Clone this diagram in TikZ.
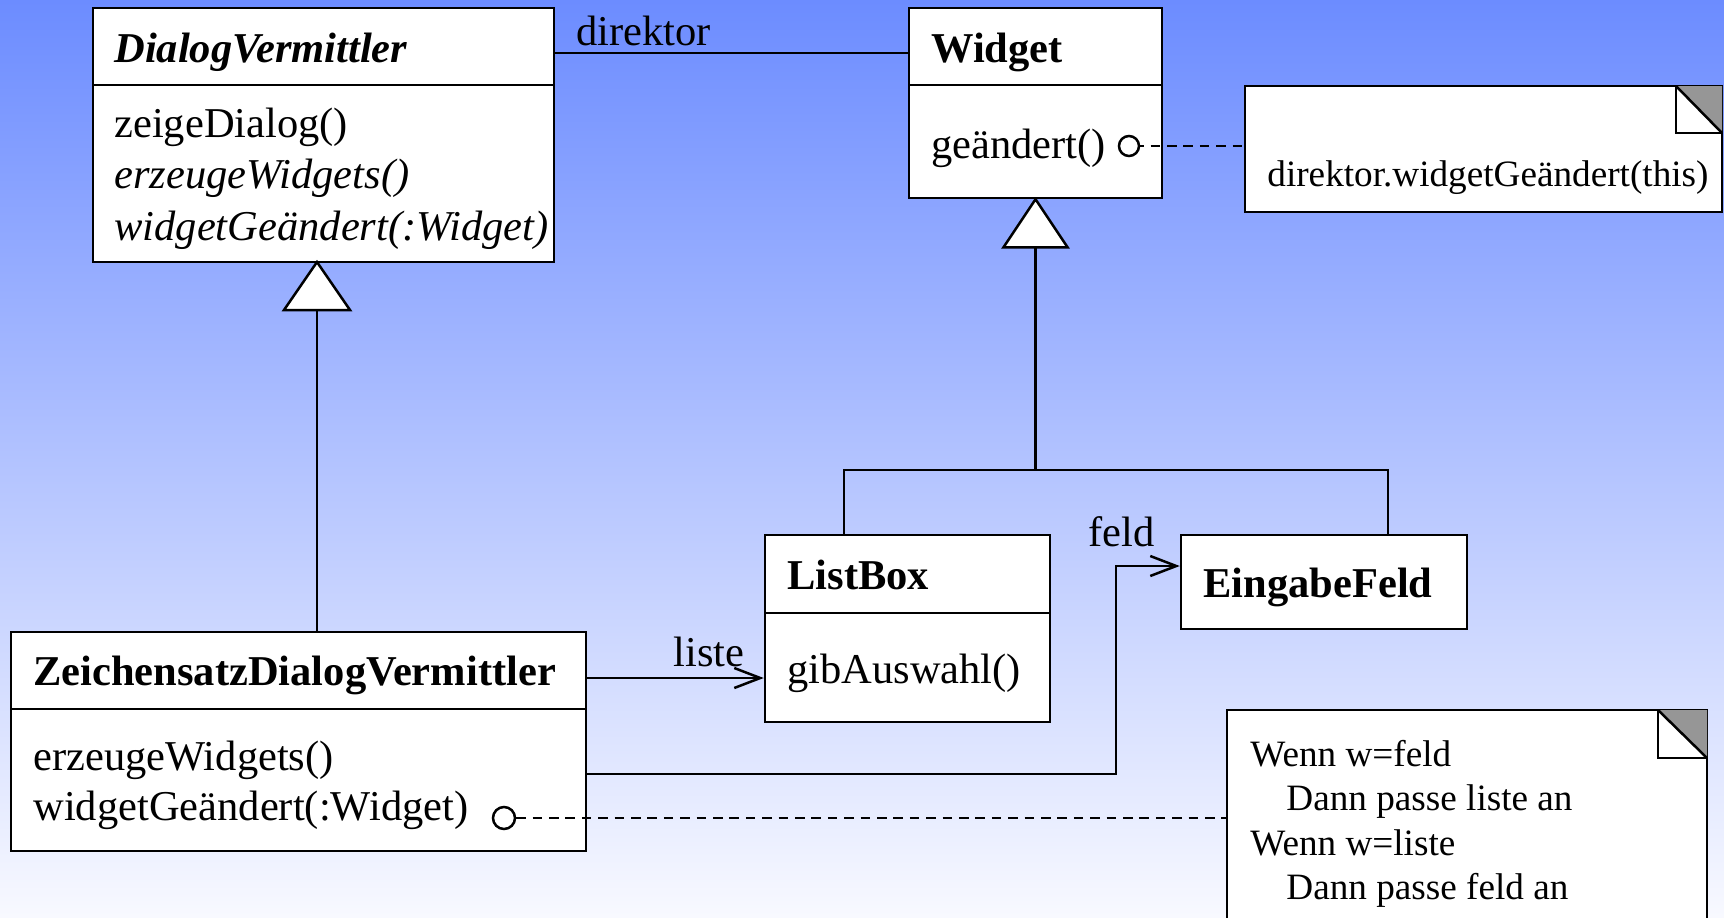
\documentclass[tikz,border=0pt]{standalone}
\usepackage{fontspec}
\setmainfont{Liberation Serif}
\usetikzlibrary{arrows.meta,fit,calc}
\definecolor{bgtop}{RGB}{108,140,255}
\definecolor{bgbot}{RGB}{248,249,255}
\definecolor{foldgray}{RGB}{150,150,150}
\begin{document}
\begin{tikzpicture}[x=0.5pt,y=-0.5pt,
  box/.style={draw, fill=white, line width=1.25pt, inner sep=0pt},
  txt/.style={anchor=base west, inner sep=0pt, font=\fontsize{21.25pt}{25.5pt}\selectfont},
  ntxt/.style={anchor=base west, inner sep=0pt, font=\fontsize{18.6pt}{22pt}\selectfont},
  conn/.style={line width=1.25pt},
  notedash/.style={line width=1.25pt, dash pattern=on 4.8pt off 3.4pt},
  opentip/.style={-{Straight Barb[length=13pt,width=10pt,line width=1.25pt]}},
  port/.style={circle, draw, fill=white, line width=1.25pt, minimum size=10pt, inner sep=0pt},
]
\shade[top color=bgtop, bottom color=bgbot] (0,0) rectangle (1724,917);
\useasboundingbox (0,0) rectangle (1724,917);
\clip (0,0) rectangle (1724,917);

% DialogVermittler
\node[box, fit={(93,8)(554,262)}] (dv) {};
\draw[conn] (93,85) -- (554,85);
\node[txt] (dvname) at (114,62) {\bfseries\itshape DialogVermittler};
\node[txt] (dvm1) at (114,137) {zeigeDialog()};
\node[txt] (dvm2) at (114,188) {\itshape erzeugeWidgets()};
\node[txt] (dvm3) at (114,240) {\itshape widgetGeändert(:Widget)};

% Widget
\node[box, fit={(909,8)(1162,198)}] (w) {};
\draw[conn] (909,85) -- (1162,85);
\node[txt] (wname) at (931,62) {\bfseries Widget};
\node[txt] (wm1) at (931,158) {geändert()};
\node[port] (c1) at (1129,146) {};

% Note 1
\node[box, fit={(1245,86)(1722,212)}] (note1) {};
\fill[foldgray] (1676,86) -- (1722,86) -- (1722,133) -- cycle;
\draw[conn] (1676,86) -- (1676,133) -- (1722,133);
\draw[conn] (1676,86) -- (1722,133);
\node[ntxt] (note1txt) at (1267,186) {direktor.widgetGeändert(this)};
\draw[notedash, dash phase=3pt] (c1.east) -- (note1.west |- c1.east);

% direktor association
\coordinate (diry) at (0,53);
\draw[conn] (dv.east |- diry) -- (w.west |- diry);
\node[txt] (dirlbl) at (576,45) {direktor};

% ListBox
\node[box, fit={(765,535)(1050,722)}] (lb) {};
\draw[conn] (765,613) -- (1050,613);
\node[txt] (lbname) at (787,589) {\bfseries ListBox};
\node[txt] (lbm1) at (787,683) {gibAuswahl()};

% EingabeFeld
\node[box, fit={(1181,535)(1467,629)}] (ef) {};
\node[txt] (efname) at (1203,597) {\bfseries EingabeFeld};

% ZeichensatzDialogVermittler
\node[box, fit={(11,632)(586,851)}] (zdv) {};
\draw[conn] (11,709) -- (586,709);
\node[txt] (zname) at (33,685) {\bfseries ZeichensatzDialogVermittler};
\node[txt] (zm1) at (33,770) {erzeugeWidgets()};
\node[txt] (zm2) at (33,820) {widgetGeändert(:Widget)};
\node[port, minimum size=11pt] (c2) at (504,818) {};

% Note 2
\node[box, fit={(1227,710)(1707,940)}] (note2) {};
\fill[foldgray] (1658,710) -- (1707,710) -- (1707,758) -- cycle;
\draw[conn] (1658,710) -- (1658,758) -- (1707,758);
\draw[conn] (1658,710) -- (1707,758);
\node[ntxt] (n2a) at (1250,766) {Wenn w=feld};
\node[ntxt] (n2b) at (1286,810) {Dann passe liste an};
\node[ntxt] (n2c) at (1250,855) {Wenn w=liste};
\node[ntxt] (n2d) at (1286,899) {Dann passe feld an};
\draw[notedash] (c2.east) -- (note2.west |- c2.east);

% Generalisation DialogVermittler <- Zeichensatz
\coordinate (dvap) at (317,262);
\draw[conn, fill=white] (dvap) -- ++(33,48) -- ++(-66,0) -- cycle;
\coordinate (dvt) at ($(dvap)+(0,48)$);
\draw[conn] (dvt) -- (dvt |- zdv.north);

% Generalisation Widget <- ListBox, EingabeFeld
\draw[conn, fill=white] (w.south) -- ++(32,48) -- ++(-64,0) -- cycle;
\coordinate (wt) at ($(w.south)+(0,48)$);
\coordinate (jl) at (844,470);
\coordinate (je) at (1388,470);
\draw[conn] (wt) -- (wt |- jl);
\draw[conn] (jl |- lb.north) -- (jl) -- (je) -- (je |- ef.north);

% liste association
\coordinate (ly) at (0,678);
\draw[conn, opentip] (zdv.east |- ly) -- (lb.west |- ly);
\node[txt] (listelbl) at (673,666) {liste};

% feld association
\coordinate (fy) at (0,774);
\coordinate (fx) at (1116,0);
\coordinate (fy2) at (0,566);
\draw[conn, opentip] (zdv.east |- fy) -| (fx |- fy2) -- (ef.west |- fy2);
\node[txt] (feldlbl) at (1088,546) {feld};
\end{tikzpicture}
\end{document}
